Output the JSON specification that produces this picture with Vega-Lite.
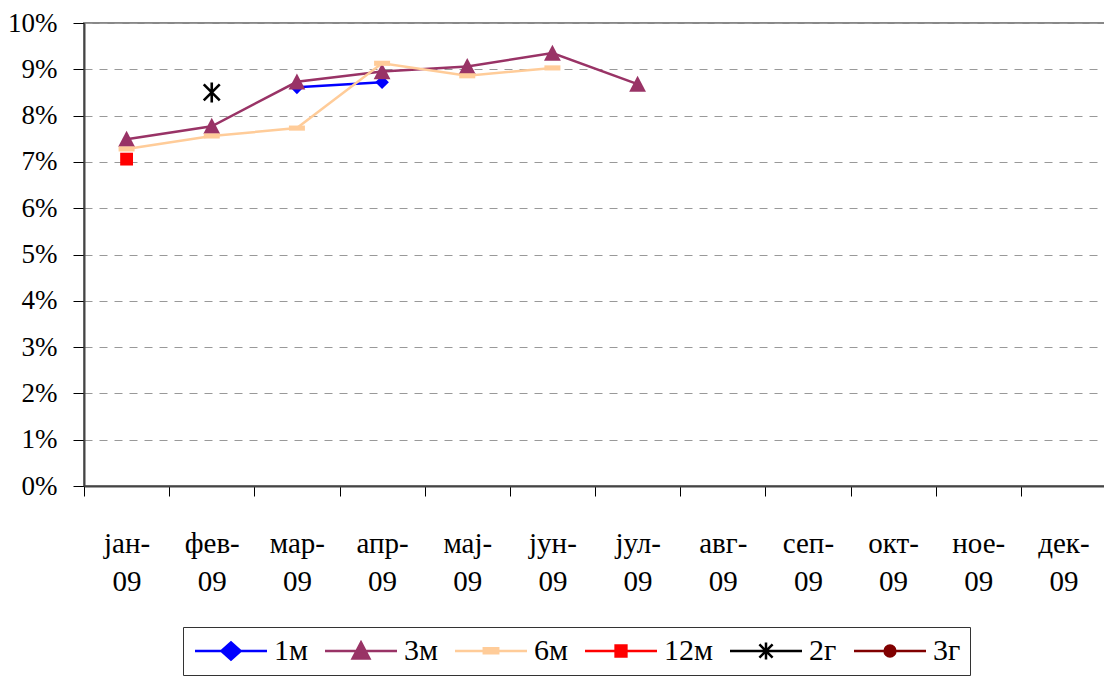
{
  "$schema": "https://vega.github.io/schema/vega-lite/v6.json",
  "width": 1022,
  "height": 463,
  "autosize": "none",
  "padding": {"left": 84, "top": 23, "right": 0, "bottom": 195},
  "background": "white",
  "config": {
    "font": "Liberation Serif",
    "view": {"stroke": "#888", "strokeWidth": 2}
  },
  "data": {
    "values": [
      {"month": "мар-09", "series": "1м", "value": 0.0861},
      {"month": "апр-09", "series": "1м", "value": 0.0872},
      {"month": "јан-09", "series": "3м", "value": 0.0749},
      {"month": "фев-09", "series": "3м", "value": 0.0777},
      {"month": "мар-09", "series": "3м", "value": 0.0873},
      {"month": "апр-09", "series": "3м", "value": 0.0895},
      {"month": "мај-09", "series": "3м", "value": 0.0906},
      {"month": "јун-09", "series": "3м", "value": 0.0935},
      {"month": "јул-09", "series": "3м", "value": 0.0868},
      {"month": "јан-09", "series": "6м", "value": 0.0728},
      {"month": "фев-09", "series": "6м", "value": 0.0756},
      {"month": "мар-09", "series": "6м", "value": 0.0773},
      {"month": "апр-09", "series": "6м", "value": 0.0913},
      {"month": "мај-09", "series": "6м", "value": 0.0886},
      {"month": "јун-09", "series": "6м", "value": 0.0903},
      {"month": "јан-09", "series": "12м", "value": 0.0706},
      {"month": "фев-09", "series": "2г", "value": 0.085}
    ]
  },
  "encoding": {
    "x": {
      "field": "month",
      "type": "nominal",
      "scale": {
        "domain": ["јан-09", "фев-09", "мар-09", "апр-09", "мај-09", "јун-09", "јул-09", "авг-09", "сеп-09", "окт-09", "ное-09", "дек-09"],
        "paddingInner": 0,
        "paddingOuter": 0
      },
      "axis": {
        "title": null,
        "tickBand": "extent",
        "labelAngle": 0,
        "labelAlign": "center",
        "labelBaseline": "top",
        "labelFontSize": 29,
        "labelColor": "#000",
        "labelExpr": "[slice(datum.label,0,4), slice(datum.label,4)]",
        "labelLineHeight": 38,
        "labelPadding": 33,
        "labelOverlap": false,
        "tickSize": 10,
        "tickColor": "#000",
        "domainColor": "#444",
        "domainWidth": 2,
        "grid": false
      }
    },
    "y": {
      "field": "value",
      "type": "quantitative",
      "scale": {"domain": [0, 0.1], "nice": false},
      "axis": {
        "title": null,
        "values": [0, 0.01, 0.02, 0.03, 0.04, 0.05, 0.06, 0.07, 0.08, 0.09, 0.1],
        "format": ".0%",
        "labelFontSize": 27,
        "labelColor": "#000",
        "labelPadding": 16,
        "tickSize": 11,
        "tickColor": "#000",
        "domainColor": "#444",
        "domainWidth": 2,
        "gridColor": "#999",
        "gridDash": [8, 7],
        "gridWidth": 1
      }
    },
    "color": {
      "field": "series",
      "type": "nominal",
      "scale": {
        "domain": ["1м", "3м", "6м", "12м", "2г", "3г"],
        "range": ["#0000FF", "#993366", "#FFCC99", "#FF0000", "#000000", "#800000"]
      },
      "legend": {
        "orient": "none",
        "legendX": 99,
        "legendY": 604,
        "direction": "horizontal",
        "columns": 6,
        "title": null,
        "labelFont": "Liberation Serif",
        "labelFontSize": 30,
        "labelColor": "#000",
        "symbolSize": 576,
        "symbolStrokeWidth": 2.5,
        "symbolOpacity": 1,
        "labelOffset": 52,
        "columnPadding": 12,
        "padding": 9,
        "strokeColor": "#333",
        "symbolLimit": 0,
        "symbolType": {"expr": "datum.value === '1м' ? 'M-1,0H5M2,-0.72L2.8,0L2,0.72L1.2,0Z' : datum.value === '3м' ? 'M-1,0H5M2,-0.72L2.7,0.62L1.3,0.62Z' : datum.value === '6м' ? 'M-1,0H5M1.4,-0.22H2.6V0.18H1.4Z' : datum.value === '12м' ? 'M-1,0H5M1.55,-0.45H2.45V0.45H1.55Z' : datum.value === '2г' ? 'M-1,0H5M1.45,-0.55L2.55,0.55M1.45,0.55L2.55,-0.55M2,-0.7V0.7' : 'M-1,0H5M2.45,0A0.45,0.45 0 1,1 1.55,0A0.45,0.45 0 1,1 2.45,0Z'"},
        "symbolFillColor": {"expr": "scale('color', datum.value)"},
        "symbolStrokeColor": {"expr": "scale('color', datum.value)"}
      }
    }
  },
  "layer": [
    {
      "mark": {"type": "line", "strokeWidth": 2.5}
    },
    {
      "transform": [{"filter": "datum.series === '1м'"}],
      "mark": {"type": "point", "filled": true, "size": 256, "opacity": 1, "shape": "M0,-0.85L0.85,0L0,0.85L-0.85,0Z"}
    },
    {
      "transform": [{"filter": "datum.series === '3м'"}],
      "mark": {"type": "point", "filled": true, "size": 256, "opacity": 1, "shape": "M0,-1.05L1.05,0.95L-1.05,0.95Z"}
    },
    {
      "transform": [{"filter": "datum.series === '6м'"}],
      "mark": {"type": "point", "filled": true, "size": 256, "opacity": 1, "shape": "M-1,-0.32H1V0.32H-1Z"}
    },
    {
      "transform": [{"filter": "datum.series === '12м'"}],
      "mark": {"type": "point", "filled": true, "size": 256, "opacity": 1, "shape": "M-0.8,-0.8H0.8V0.8H-0.8Z"}
    },
    {
      "transform": [{"filter": "datum.series === '2г'"}],
      "mark": {"type": "point", "filled": false, "size": 256, "opacity": 1, "strokeWidth": 2.6, "shape": "M-1,-1L1,1M-1,1L1,-1M0,-1.25V1.25"}
    }
  ]
}
